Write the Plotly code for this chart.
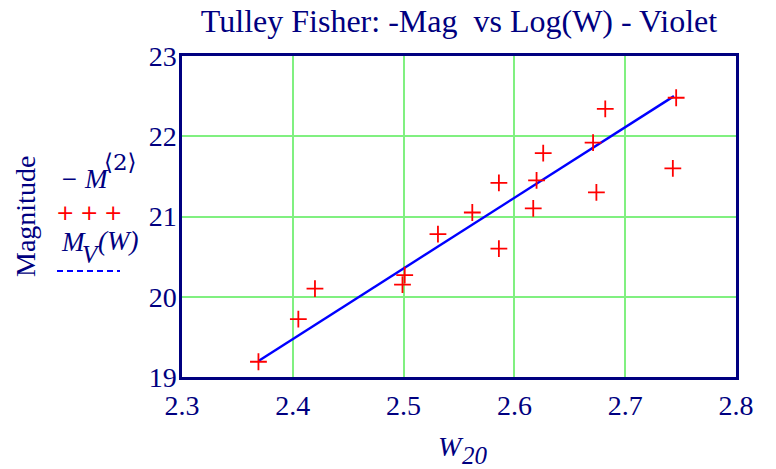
import plotly.graph_objects as go

# Data
log_w = [2.369, 2.405, 2.420, 2.501, 2.499, 2.531, 2.562, 2.586, 2.586,
         2.617, 2.620, 2.626, 2.671, 2.674, 2.682, 2.746, 2.743]
neg_mag = [19.19, 19.72, 20.10, 20.27, 20.15, 20.78, 21.05, 20.60, 21.42,
           21.10, 21.45, 21.79, 21.92, 21.30, 22.34, 22.48, 21.60]

fit_w = [2.369, 2.744]
fit_m = [19.20, 22.50]

x_ticks = [2.3, 2.4, 2.5, 2.6, 2.7, 2.8]
y_ticks = [19, 20, 21, 22, 23]

NAVY = "#000080"
FONT = "Liberation Serif"

W, H = 776, 469
L, R, T, B = 182, 40, 56, 92
pw, ph = W - L - R, H - T - B

def px(xp):
    return (xp - L) / pw

def py(yp):
    return (H - B - yp) / ph

fig = go.Figure()
fig.add_trace(go.Scatter(x=fit_w, y=fit_m, mode="lines",
                         line=dict(color="#0000ff", width=2.4),
                         showlegend=False, hoverinfo="skip"))
fig.add_trace(go.Scatter(x=log_w, y=neg_mag, mode="markers",
                         marker=dict(symbol="cross-thin", size=12,
                                     line=dict(color="#ff0000", width=1.8)),
                         showlegend=False))

fig.update_layout(
    width=W, height=H,
    margin=dict(l=L, r=R, t=T, b=B),
    paper_bgcolor="white", plot_bgcolor="white",
    font=dict(family=FONT, color=NAVY, size=24),
    title=dict(text="Tulley Fisher: -Mag  vs Log(W) - Violet",
               x=(L + pw / 2) / W, xanchor="center", y=1 - 21 / H, yanchor="middle",
               font=dict(family=FONT, size=32, color=NAVY)),
    xaxis=dict(range=[2.3, 2.8], tickvals=x_ticks, ticktext=[f"{v:.1f}" for v in x_ticks],
               showgrid=True, gridcolor="#80f080", gridwidth=2,
               showline=True, linecolor=NAVY, linewidth=2.5, mirror=True,
               zeroline=False, ticks="", ticklabelstandoff=2,
               tickfont=dict(family=FONT, size=28, color=NAVY)),
    yaxis=dict(range=[19, 23], tickvals=y_ticks, ticktext=[str(v) for v in y_ticks],
               showgrid=True, gridcolor="#80f080", gridwidth=2,
               showline=True, linecolor=NAVY, linewidth=2.5, mirror=True,
               zeroline=False, ticks="", ticklabelstandoff=-3,
               tickfont=dict(family=FONT, size=28, color=NAVY)),
)

RED = "#ff0000"
ann = [
    dict(text="Magnitude", x=px(26), y=py(217), textangle=-90,
         font=dict(size=28)),
    # x-axis title W_20
    dict(text="<i>W</i>", x=px(451), y=py(446), font=dict(size=28)),
    dict(text="<i>20</i>", x=px(475), y=py(455), font=dict(size=25)),
    # legend entry 1: -M<2>
    dict(text="<i>− M</i>", x=px(84), y=py(179), font=dict(size=27)),
    dict(text="⟨2⟩", x=px(120), y=py(162), font=dict(size=23, family="DejaVu Serif")),
    dict(text="+", x=px(65), y=py(212), font=dict(size=22, color=RED, family="DejaVu Sans")),
    dict(text="+", x=px(89), y=py(212), font=dict(size=22, color=RED, family="DejaVu Sans")),
    dict(text="+", x=px(113), y=py(212), font=dict(size=22, color=RED, family="DejaVu Sans")),
    # legend entry 2: M_V(W)
    dict(text="<i>M</i>", x=px(73), y=py(242), font=dict(size=27)),
    dict(text="<i>V</i>", x=px(91), y=py(254), font=dict(size=25)),
    dict(text="<i>(W)</i>", x=px(118), y=py(241), font=dict(size=27)),
]
for a in ann:
    a.update(xref="paper", yref="paper", showarrow=False,
             xanchor="center", yanchor="middle")
    fig.add_annotation(**a)

fig.add_shape(type="line", xref="paper", yref="paper",
              x0=px(57), x1=px(120), y0=py(271), y1=py(271),
              line=dict(color="#0000ff", width=2, dash="6px,4px"))

fig.write_html("out.html")
